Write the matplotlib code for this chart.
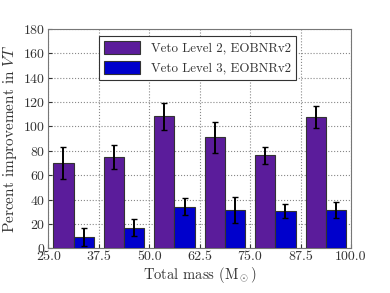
import matplotlib
matplotlib.use('Agg')
import matplotlib.pyplot as plt
import numpy as np

# chart values
group_starts = [25.0, 37.5, 50.0, 62.5, 75.0, 87.5]
veto2 = [70, 75, 108.5, 91, 76.5, 107.5]
veto2_err = [13, 10, 11, 12.5, 7, 9]
veto3 = [9, 17, 34, 31.5, 30.5, 31.5]
veto3_err = [7.5, 7, 7, 10.5, 5.8, 6.5]
xticks = [25.0, 37.5, 50.0, 62.5, 75.0, 87.5, 100.0]

plt.rcParams['font.family'] = 'serif'
plt.rcParams['font.serif'] = ['cmr10']
plt.rcParams['mathtext.fontset'] = 'cm'
plt.rcParams['axes.formatter.use_mathtext'] = True
plt.rcParams['font.size'] = 9.5

fig = plt.figure(figsize=(3.9, 2.93), dpi=100)
ax = fig.add_axes([0.124, 0.1526, 0.776, 0.7484])

width = 5.0
x = np.array(group_starts) + 1.25
ax.bar(x, veto2, width, align='edge', color='#5b1c9b', edgecolor='#333333',
       linewidth=0.8, label='Veto Level 2, EOBNRv2', zorder=3)
ax.bar(x + width, veto3, width, align='edge', color='#0000cc', edgecolor='#333333',
       linewidth=0.8, label='Veto Level 3, EOBNRv2', zorder=3)
ax.errorbar(x + width / 2, veto2, yerr=veto2_err, fmt='none', ecolor='black',
            elinewidth=1.4, capsize=2.5, capthick=1.0, zorder=4)
ax.errorbar(x + 1.5 * width, veto3, yerr=veto3_err, fmt='none', ecolor='black',
            elinewidth=1.4, capsize=2.5, capthick=1.0, zorder=4)

ax.set_xlim(25, 100)
ax.set_ylim(0, 180)
ax.set_xticks(xticks)
ax.set_xticklabels(['%.1f' % t for t in xticks])
ax.set_yticks(np.arange(0, 181, 20))
ax.grid(True, linestyle=':', color='#888888', linewidth=0.8, zorder=0)
ax.set_axisbelow(True)
for s in ax.spines.values():
    s.set_color('#777777')
ax.tick_params(colors='#333333', direction='in', length=3, labelsize=10,
               labelcolor='#333333', pad=2)

ax.set_xlabel(r'Total mass (M$_\odot$)', color='#333333', labelpad=1, fontsize=10.5)
ax.set_ylabel(r'Percent improvement in $VT$', color='#333333', labelpad=3,
              fontsize=11)

leg = ax.legend(loc='upper left', bbox_to_anchor=(0.167, 0.968), fancybox=False,
                framealpha=1, edgecolor='#333333', borderaxespad=0,
                handlelength=2.8, handleheight=1.1, fontsize=9.3)
leg.get_frame().set_linewidth(0.8)
for t in leg.get_texts():
    t.set_color('#333333')

fig.savefig('out.png', dpi=100)
